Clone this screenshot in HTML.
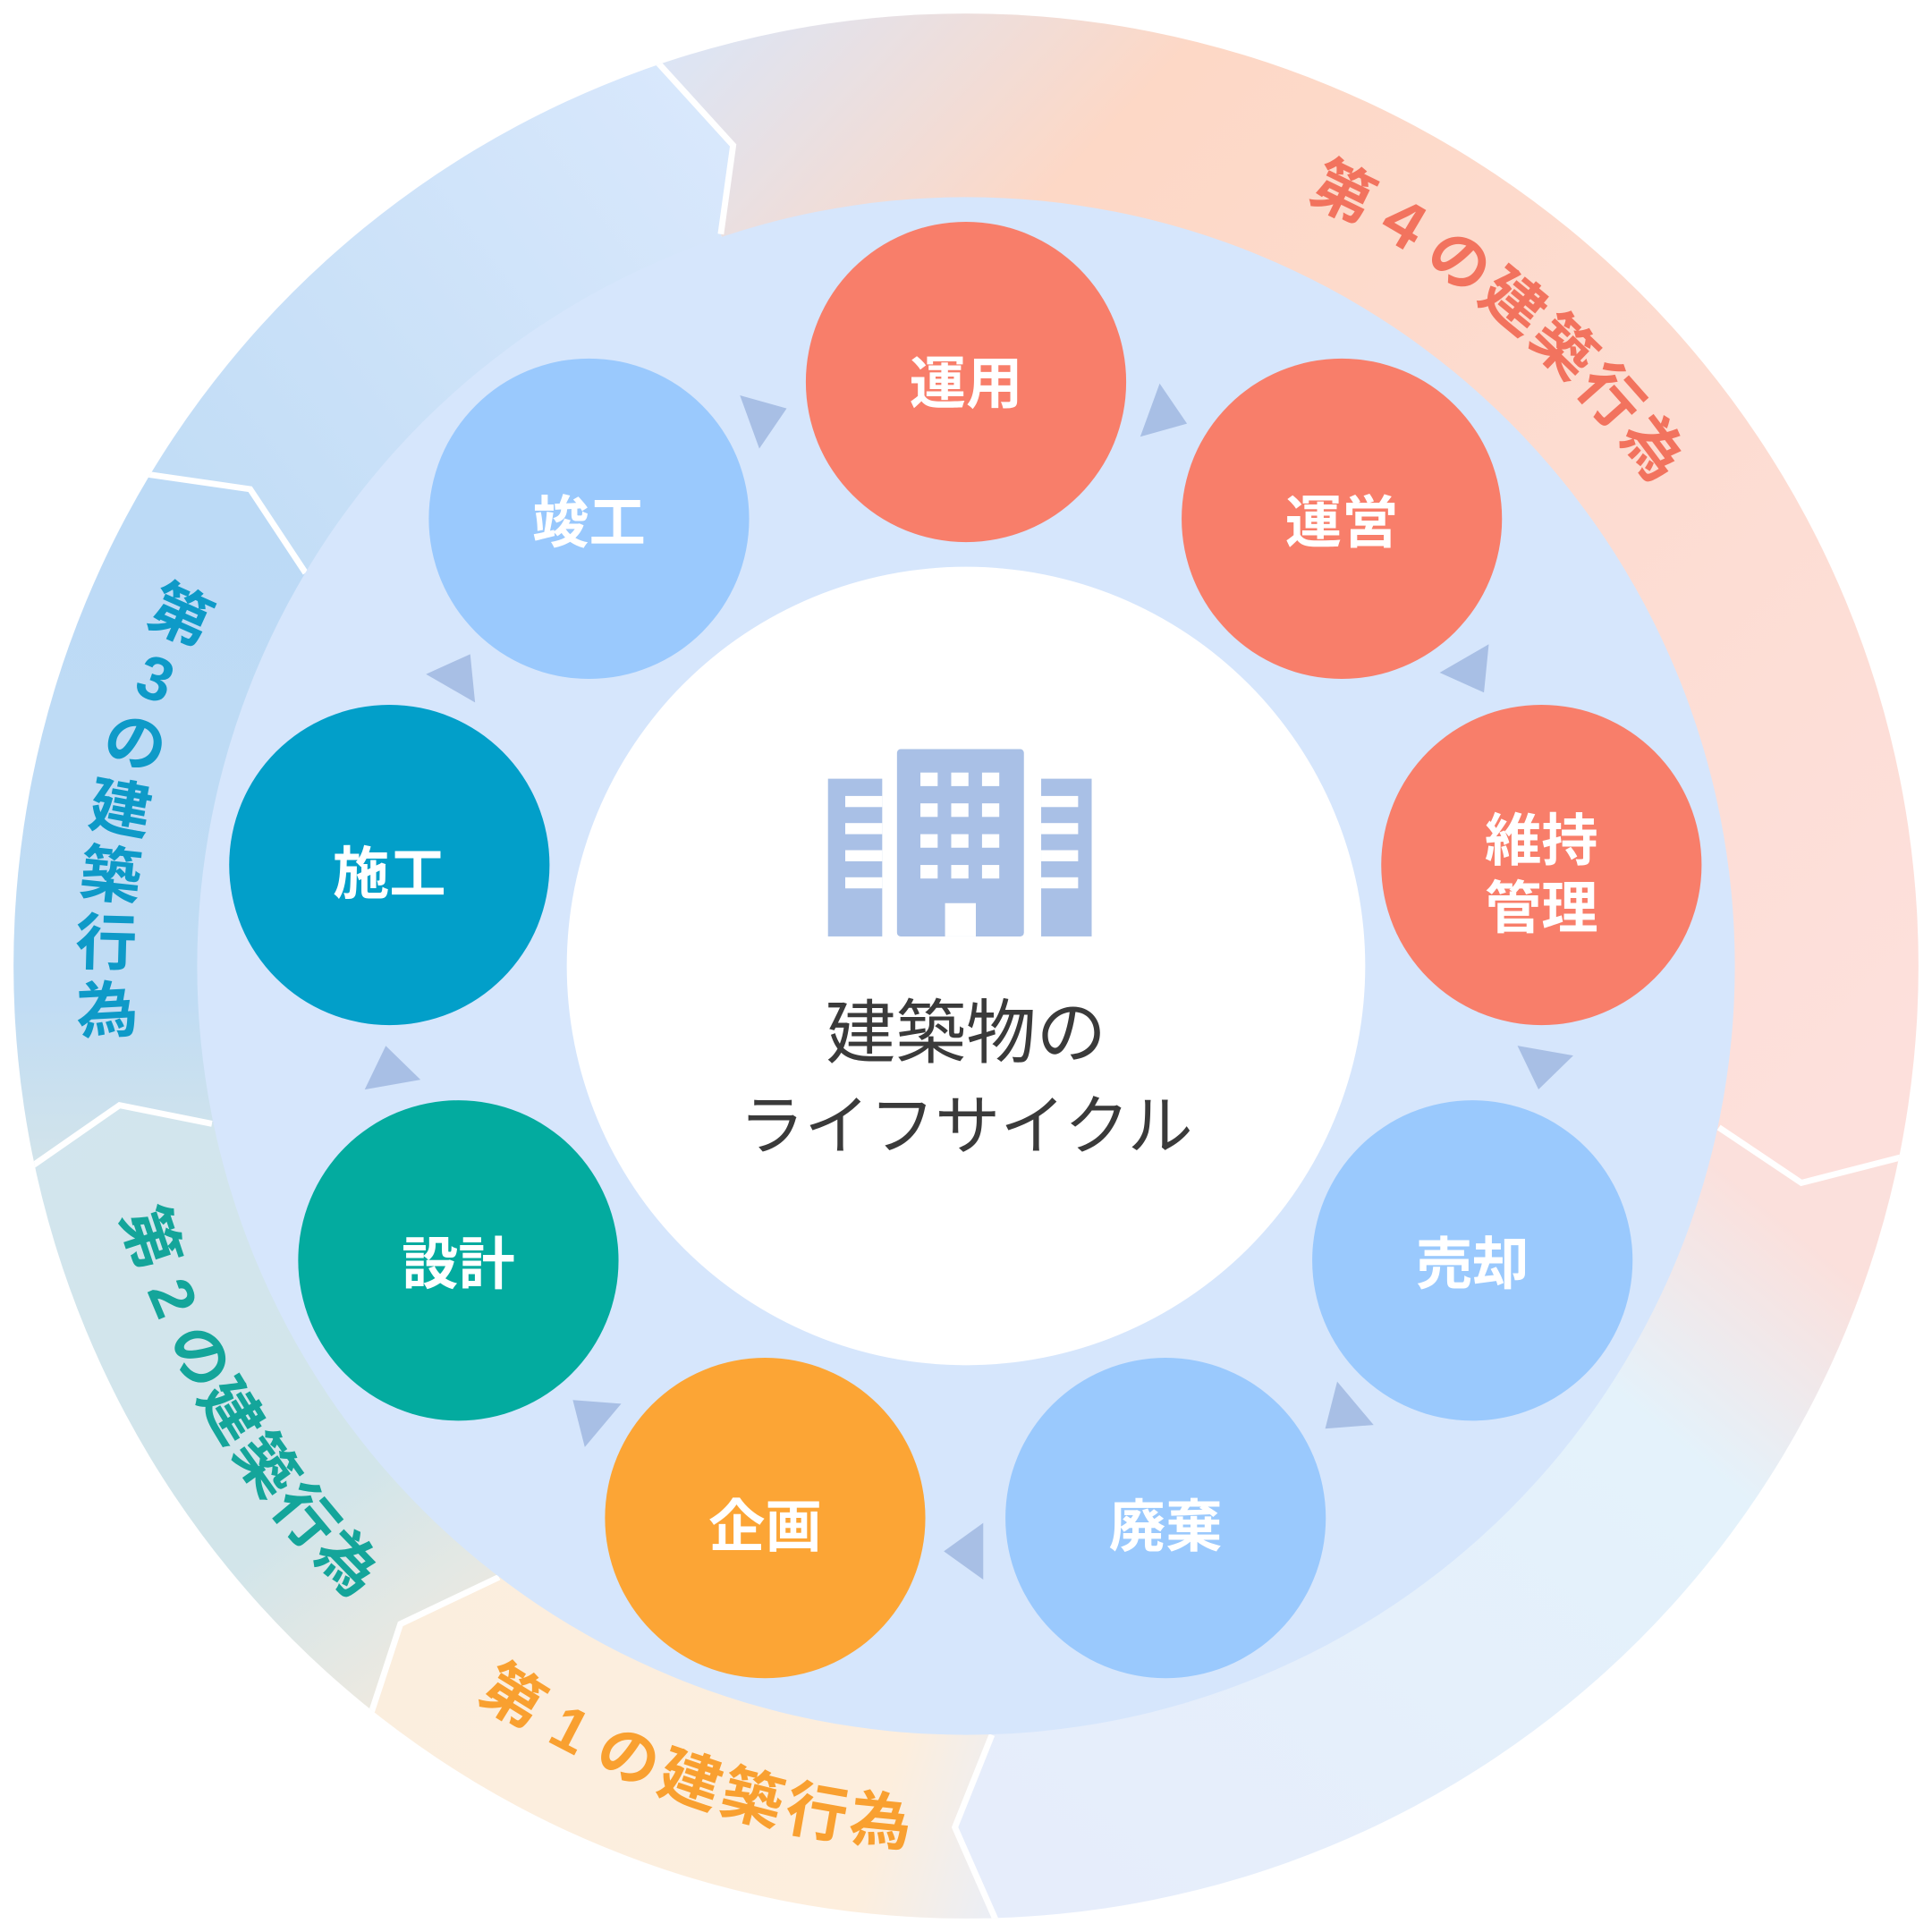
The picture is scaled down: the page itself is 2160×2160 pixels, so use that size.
<!DOCTYPE html>
<html><head><meta charset="utf-8"><style>
html,body{margin:0;padding:0;background:#fff;width:2160px;height:2160px;overflow:hidden;}
svg{display:block;}
text{font-family:"Liberation Sans","Noto Sans CJK JP",sans-serif;}
</style></head><body>
<svg width="2160" height="2160" viewBox="0 0 1568 1568" xmlns="http://www.w3.org/2000/svg">
<defs>
<clipPath id="ring"><circle cx="784" cy="784" r="773"/></clipPath>
<linearGradient id="g4" x1="550" y1="0" x2="1500" y2="900" gradientUnits="userSpaceOnUse">
<stop offset="0" stop-color="#d9e6f9"/><stop offset="0.25" stop-color="#fdd8c6"/><stop offset="1" stop-color="#fde0dc"/></linearGradient>
<linearGradient id="glr" x1="1400" y1="950" x2="900" y2="1550" gradientUnits="userSpaceOnUse">
<stop offset="0" stop-color="#fbe0dc"/><stop offset="0.25" stop-color="#e4f2fb"/><stop offset="1" stop-color="#e6edfb"/></linearGradient>
<linearGradient id="g1" x1="300" y1="1350" x2="820" y2="1500" gradientUnits="userSpaceOnUse">
<stop offset="0" stop-color="#fbeede"/><stop offset="0.8" stop-color="#fdeedd"/><stop offset="1" stop-color="#ebeef5"/></linearGradient>
<linearGradient id="g2" x1="0" y1="900" x2="350" y2="1380" gradientUnits="userSpaceOnUse">
<stop offset="0" stop-color="#d2e5ee"/><stop offset="0.7" stop-color="#d2e5ea"/><stop offset="1" stop-color="#f1eadf"/></linearGradient>
<linearGradient id="g3" x1="0" y1="400" x2="0" y2="950" gradientUnits="userSpaceOnUse">
<stop offset="0" stop-color="#bcdaf6"/><stop offset="0.75" stop-color="#c0dcf4"/><stop offset="1" stop-color="#d3e4ea"/></linearGradient>
<linearGradient id="gt" x1="150" y1="400" x2="580" y2="80" gradientUnits="userSpaceOnUse">
<stop offset="0" stop-color="#c2ddf6"/><stop offset="1" stop-color="#d9e8fc"/></linearGradient>
</defs>
<g clip-path="url(#ring)">
<polygon fill="url(#g4)" points="585,190 595,118 535,52 430,-258 1334,-169 1884,784 1861,1007 1540,940 1462,960 1395,915 784,784"/>
<polygon fill="url(#glr)" points="1395,915 1462,960 1540,940 1861,1007 1491,1627 818,1883 808,1558 775,1483 805,1408 784,784"/>
<polygon fill="url(#g1)" points="805,1408 775,1483 808,1558 818,1883 98,1643 302,1388 325,1318 405,1280 784,784"/>
<polygon fill="url(#g2)" points="405,1280 325,1318 302,1388 98,1643 -292,1013 28,945 97,897 172,912 784,784"/>
<polygon fill="url(#g3)" points="172,912 97,897 28,945 -292,1013 -159,217 120,385 203,397 248,465 784,784"/>
<polygon fill="url(#gt)" points="248,465 203,397 120,385 -159,217 430,-258 535,52 595,118 585,190 784,784"/>
<g fill="none" stroke="#fff" stroke-width="5" stroke-linejoin="miter">
<polyline points="585,190 595,118 535,52 500,15"/>
<polyline points="248,465 203,397 120,385 80,380"/>
<polyline points="172,912 97,897 28,945 0,965"/>
<polyline points="405,1280 325,1318 302,1388 290,1420"/>
<polyline points="805,1408 775,1483 808,1558 820,1590"/>
<polyline points="1395,915 1462,960 1540,940 1580,930"/>
</g>
</g>
<circle cx="784" cy="784" r="624" fill="#d6e6fc"/>
<circle cx="784" cy="784" r="324" fill="#fff"/>

<g fill="#a8bfe5">
<g transform="rotate(-70 784 784) translate(1259 784) rotate(90)"><polygon points="18,0 -14,-23 -14,23"/></g>
<g transform="rotate(-30 784 784) translate(1259 784) rotate(90)"><polygon points="18,0 -14,-23 -14,23"/></g>
<g transform="rotate(10 784 784) translate(1259 784) rotate(90)"><polygon points="18,0 -14,-23 -14,23"/></g>
<g transform="rotate(50 784 784) translate(1259 784) rotate(90)"><polygon points="18,0 -14,-23 -14,23"/></g>
<g transform="rotate(90 784 784) translate(1259 784) rotate(90)"><polygon points="18,0 -14,-23 -14,23"/></g>
<g transform="rotate(130 784 784) translate(1259 784) rotate(90)"><polygon points="18,0 -14,-23 -14,23"/></g>
<g transform="rotate(170 784 784) translate(1259 784) rotate(90)"><polygon points="18,0 -14,-23 -14,23"/></g>
<g transform="rotate(210 784 784) translate(1259 784) rotate(90)"><polygon points="18,0 -14,-23 -14,23"/></g>
<g transform="rotate(250 784 784) translate(1259 784) rotate(90)"><polygon points="18,0 -14,-23 -14,23"/></g>
</g>

<circle cx="784" cy="310" r="130" fill="#f87e6a"/>
<circle cx="1089" cy="421" r="130" fill="#f87e6a"/>
<circle cx="1251" cy="702" r="130" fill="#f87e6a"/>
<circle cx="1195" cy="1023" r="130" fill="#9ac9fd"/>
<circle cx="946" cy="1232" r="130" fill="#9ac9fd"/>
<circle cx="621" cy="1232" r="130" fill="#fca535"/>
<circle cx="372" cy="1023" r="130" fill="#03ab9f"/>
<circle cx="316" cy="702" r="130" fill="#029fc9"/>
<circle cx="478" cy="421" r="130" fill="#9ac9fd"/>

<g fill="#fff" font-size="46" font-weight="bold" text-anchor="middle" dominant-baseline="central">
<text x="784" y="312">運用</text>
<text x="1089" y="425">運営</text>
<text x="1251" y="683">維持</text>
<text x="1251" y="738">管理</text>
<text x="1195" y="1027">売却</text>
<text x="946" y="1240">廃棄</text>
<text x="621" y="1240">企画</text>
<text x="372" y="1027">設計</text>
<text x="316" y="710">施工</text>
<text x="478" y="425">竣工</text>
</g>

<g fill="#a9c0e6">
<rect x="672" y="632" width="44" height="128"/>
<rect x="845" y="632" width="41" height="128"/>
<rect x="728" y="608" width="103" height="152" rx="3"/>
</g>
<g fill="#fff">
<rect x="686" y="646" width="30" height="9"/><rect x="686" y="668" width="30" height="9"/><rect x="686" y="690" width="30" height="9"/><rect x="686" y="712" width="30" height="9"/>
<rect x="845" y="646" width="30" height="9"/><rect x="845" y="668" width="30" height="9"/><rect x="845" y="690" width="30" height="9"/><rect x="845" y="712" width="30" height="9"/>
<rect x="747" y="627" width="14" height="11"/><rect x="772" y="627" width="14" height="11"/><rect x="797" y="627" width="14" height="11"/>
<rect x="747" y="652" width="14" height="11"/><rect x="772" y="652" width="14" height="11"/><rect x="797" y="652" width="14" height="11"/>
<rect x="747" y="677" width="14" height="11"/><rect x="772" y="677" width="14" height="11"/><rect x="797" y="677" width="14" height="11"/>
<rect x="747" y="702" width="14" height="11"/><rect x="772" y="702" width="14" height="11"/><rect x="797" y="702" width="14" height="11"/>
<rect x="767" y="733" width="25" height="27"/>
</g>

<g fill="#3a3a3a" text-anchor="middle">
<text x="784" y="858" font-size="57">建築物の</text>
<text x="784" y="932" font-size="53">ライフサイクル</text>
</g>

<g font-size="50" font-weight="bold" text-anchor="middle" dominant-baseline="central">
<g fill="#f2735e">
<text transform="rotate(-64 784 784) translate(1482 784) rotate(90)">第</text>
<text transform="rotate(-59.5 784 784) translate(1482 784) rotate(90)">４</text>
<text transform="rotate(-55 784 784) translate(1482 784) rotate(90)">の</text>
<text transform="rotate(-50.5 784 784) translate(1482 784) rotate(90)">建</text>
<text transform="rotate(-46 784 784) translate(1482 784) rotate(90)">築</text>
<text transform="rotate(-41.5 784 784) translate(1482 784) rotate(90)">行</text>
<text transform="rotate(-37 784 784) translate(1482 784) rotate(90)">為</text>
</g>
<g fill="#0e9ac8">
<text transform="rotate(204 784 784) translate(1482 784) rotate(-180)">第</text>
<text transform="rotate(199.5 784 784) translate(1482 784) rotate(-180)">3</text>
<text transform="rotate(195 784 784) translate(1482 784) rotate(-180)">の</text>
<text transform="rotate(190.5 784 784) translate(1482 784) rotate(-180)">建</text>
<text transform="rotate(186 784 784) translate(1482 784) rotate(-180)">築</text>
<text transform="rotate(181.5 784 784) translate(1482 784) rotate(-180)">行</text>
<text transform="rotate(177 784 784) translate(1482 784) rotate(-180)">為</text>
</g>
<g fill="#14a59a">
<text transform="rotate(161.6 784 784) translate(1482 784) rotate(-90)">第</text>
<text transform="rotate(157.3 784 784) translate(1482 784) rotate(-90)">2</text>
<text transform="rotate(153 784 784) translate(1482 784) rotate(-90)">の</text>
<text transform="rotate(148.8 784 784) translate(1482 784) rotate(-90)">建</text>
<text transform="rotate(144.5 784 784) translate(1482 784) rotate(-90)">築</text>
<text transform="rotate(140.2 784 784) translate(1482 784) rotate(-90)">行</text>
<text transform="rotate(136 784 784) translate(1482 784) rotate(-90)">為</text>
</g>
<g fill="#f9a030">
<text transform="rotate(121.8 784 784) translate(1482 784) rotate(-90)">第</text>
<text transform="rotate(117.4 784 784) translate(1482 784) rotate(-90)">1</text>
<text transform="rotate(113.1 784 784) translate(1482 784) rotate(-90)">の</text>
<text transform="rotate(108.7 784 784) translate(1482 784) rotate(-90)">建</text>
<text transform="rotate(104.4 784 784) translate(1482 784) rotate(-90)">築</text>
<text transform="rotate(100 784 784) translate(1482 784) rotate(-90)">行</text>
<text transform="rotate(95.7 784 784) translate(1482 784) rotate(-90)">為</text>
</g>
</g>
</svg>
</body></html>
